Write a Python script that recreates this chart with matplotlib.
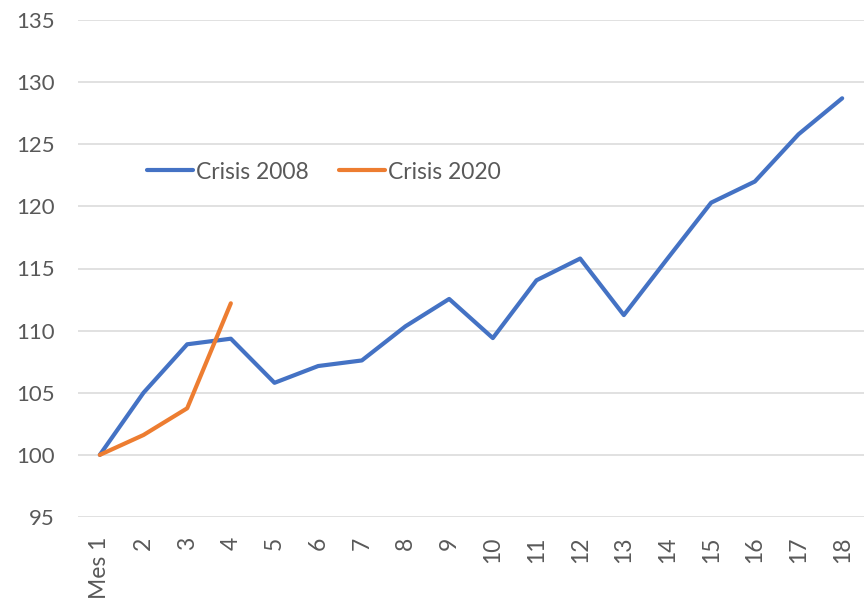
import numpy as np
import matplotlib
matplotlib.use('Agg')
import matplotlib.pyplot as plt

# data
meses = ['Mes 1'] + [str(i) for i in range(2, 19)]
crisis_2008 = [100, 105.0, 108.9, 109.35, 105.8, 107.15, 107.6, 110.35, 112.55, 109.4,
               114.05, 115.8, 111.25, 115.8, 120.3, 122.0, 125.8, 128.7]
crisis_2020 = [100, 101.6, 103.75, 112.2]

plt.rcParams['font.family'] = ['Lato', 'DejaVu Sans']
txt = '#595959'

fig = plt.figure(figsize=(8.64, 6.13), dpi=100)
ax = fig.add_axes([78/864, 96/613, 786/864, 497/613])

x = np.arange(len(meses))
ax.plot(x, crisis_2008, color='#4472C4', lw=3, label='Crisis 2008',
        solid_joinstyle='round', solid_capstyle='round')
ax.plot(x[:len(crisis_2020)], crisis_2020, color='#ED7D31', lw=3, label='Crisis 2020',
        solid_joinstyle='round', solid_capstyle='round')

ax.set_xlim(-0.5, len(meses) - 0.5)
ax.set_ylim(95, 135)
ax.set_yticks(range(95, 136, 5))
ax.set_xticks(x)
ax.set_xticklabels(meses, rotation=90)
ax.grid(axis='y', color='#D9D9D9', lw=1.1)
ax.set_axisbelow(True)
for s in ax.spines.values():
    s.set_visible(False)
ax.tick_params(axis='y', length=0, pad=17, labelsize=16, labelcolor=txt)
ax.tick_params(axis='x', length=0, pad=14, labelsize=16.5, labelcolor=txt)

leg = fig.legend(loc='center left', bbox_to_anchor=(147/864, 1 - 172/613), ncol=2,
                 frameon=False, fontsize=16.5, handlelength=2.0, handletextpad=0.15,
                 columnspacing=1.3, borderpad=0, borderaxespad=0)
for t in leg.get_texts():
    t.set_color(txt)

fig.savefig('out.png', dpi=100)
